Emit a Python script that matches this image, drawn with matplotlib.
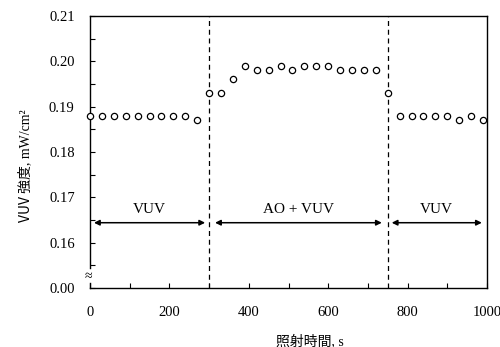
import numpy as np
import matplotlib.pyplot as plt
from matplotlib.lines import Line2D

# data
time_s = [0, 30, 60, 90, 120, 150, 180, 210, 240, 270,
          300, 330, 360, 390, 420, 450, 480, 510, 540, 570, 600, 630, 660, 690, 720, 750,
          780, 810, 840, 870, 900, 930, 960, 990]
vuv_intensity = [0.188, 0.188, 0.188, 0.188, 0.188, 0.188, 0.188, 0.188, 0.188, 0.187,
                 0.193, 0.193, 0.196, 0.199, 0.198, 0.198, 0.199, 0.198, 0.199, 0.199, 0.199,
                 0.198, 0.198, 0.198, 0.198, 0.193,
                 0.188, 0.188, 0.188, 0.188, 0.188, 0.187, 0.188, 0.187]
phase_bounds = [300, 750]
phase_labels = ["VUV", "AO + VUV", "VUV"]
phase_spans = [(10, 290), (315, 735), (760, 987)]

ytick_vals = [0.15, 0.16, 0.17, 0.18, 0.19, 0.20, 0.21]
ytick_labels = ["0.00", "0.16", "0.17", "0.18", "0.19", "0.20", "0.21"]
xtick_vals = [0, 200, 400, 600, 800, 1000]

serif = "Liberation Serif"
cjk = "Noto Sans CJK JP"

fig = plt.figure(figsize=(5.0, 3.47), dpi=100)
ax = fig.add_axes([0.18, 0.170, 0.794, 0.784])

ax.plot(time_s, vuv_intensity, linestyle="none", marker="o", ms=4.5,
        mfc="white", mec="black", mew=0.9, clip_on=False, zorder=5)

for xb in phase_bounds:
    ax.axvline(xb, color="black", ls=(0, (4, 3)), lw=0.9)

for (x0, x1), lab in zip(phase_spans, phase_labels):
    ax.annotate("", xy=(x0, 0.1644), xytext=(x1, 0.1644),
                arrowprops=dict(arrowstyle="<|-|>", color="black", lw=1.1,
                                mutation_scale=8, shrinkA=0, shrinkB=0))
    ax.text((x0 + x1) / 2, 0.1658, lab, ha="center", va="bottom",
            family=serif, fontsize=11)

ax.set_xlim(0, 1000)
ax.set_ylim(0.15, 0.21)
ax.set_xticks(xtick_vals)
ax.set_xticks(np.arange(100, 1000, 200), minor=True)
ax.set_yticks(ytick_vals)
ax.set_yticklabels(ytick_labels)
ax.set_yticks(np.arange(0.155, 0.21, 0.01), minor=True)
ax.tick_params(which="both", direction="in", top=False, right=False,
               length=3.5, width=0.8, labelsize=10.5)
ax.tick_params(axis="y", pad=11)
ax.tick_params(axis="x", pad=13)
for lab in ax.get_xticklabels() + ax.get_yticklabels():
    lab.set_family(serif)

for s in ax.spines.values():
    s.set_linewidth(1.0)

# broken y axis
ax.spines["left"].set_bounds(0.1545, 0.21)
ax.add_line(Line2D([0, 0], [0.15, 0.1511], color="black", lw=1.0, clip_on=False))
ax.text(-3, 0.1526, "≈", ha="center", va="center", fontsize=10, family=serif)

# axis labels
fig.text(0.62, 0.017, "照射時間, s", ha="center", va="center",
         family=[serif, cjk], fontsize=10)

t1 = fig.text(0.052, 1 - 222 / 347, "VUV 強度", rotation=90, ha="center",
              va="bottom", family=cjk, fontsize=10)
fig.canvas.draw()
bb = t1.get_window_extent()
top = bb.y1 / fig.dpi / 3.47
fig.text(0.052, top, ", mW/cm²", rotation=90, ha="center", va="bottom",
         family=serif, fontsize=10)

fig.savefig("out.png", dpi=100)
